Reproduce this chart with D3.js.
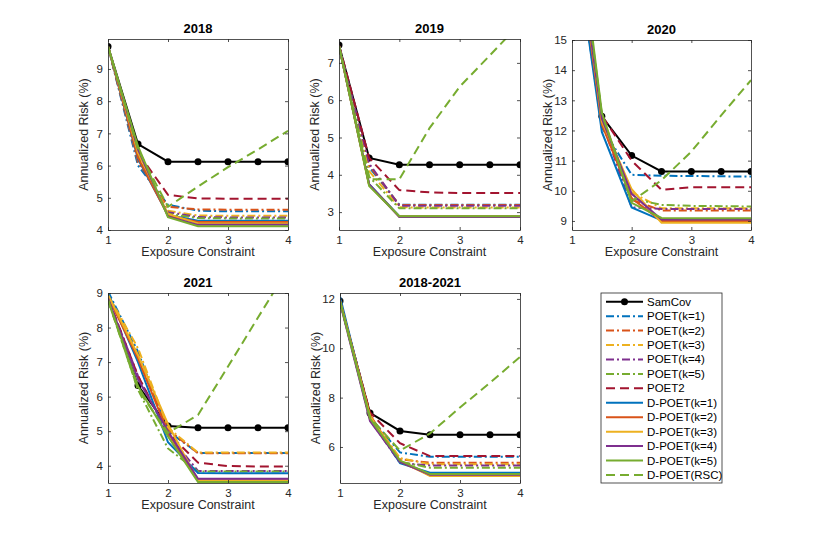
<!DOCTYPE html>
<html>
<head>
<meta charset="utf-8">
<script src="https://cdn.jsdelivr.net/npm/d3@7"></script>
<style>
  body { margin: 0; background: #fff; }
  text { font-family: "Liberation Sans", Arial, sans-serif; }
</style>
</head>
<body>
<div id="chart"></div>
<script>
// exposure constraint values on the x axis
const exposure = [1, 1.5, 2, 2.5, 3, 3.5, 4];
const xTicks = [1, 2, 3, 4];

const seriesNames = ["SamCov", "POET(k=1)", "POET(k=2)", "POET(k=3)", "POET(k=4)", "POET(k=5)", "POET2",
  "D-POET(k=1)", "D-POET(k=2)", "D-POET(k=3)", "D-POET(k=4)", "D-POET(k=5)", "D-POET(RSC)"];

// one row per series, same order as seriesNames
const risk2018 = [
  [9.7, 6.67, 6.12, 6.12, 6.12, 6.12, 6.12],
  [9.7, 6.0, 4.78, 4.6, 4.58, 4.58, 4.58],
  [9.7, 6.1, 4.72, 4.64, 4.63, 4.63, 4.63],
  [9.7, 6.2, 4.6, 4.45, 4.44, 4.44, 4.44],
  [9.7, 6.2, 4.55, 4.4, 4.39, 4.39, 4.39],
  [9.7, 6.3, 4.5, 4.37, 4.36, 4.36, 4.36],
  [9.7, 6.4, 5.09, 4.98, 4.97, 4.97, 4.97],
  [9.7, 6.2, 4.47, 4.29, 4.29, 4.29, 4.29],
  [9.7, 6.25, 4.45, 4.25, 4.25, 4.25, 4.25],
  [9.7, 6.4, 4.5, 4.2, 4.2, 4.2, 4.2],
  [9.7, 6.5, 4.42, 4.16, 4.16, 4.16, 4.16],
  [9.7, 6.6, 4.4, 4.12, 4.12, 4.12, 4.12],
  [9.7, 6.5, 4.72, 5.35, 5.95, 6.5, 7.08]
];
const risk2019 = [
  [7.48, 4.45, 4.27, 4.27, 4.27, 4.27, 4.27],
  [7.45, 4.2, 3.2, 3.2, 3.2, 3.2, 3.2],
  [7.45, 4.25, 3.19, 3.19, 3.19, 3.19, 3.19],
  [7.45, 4.1, 3.13, 3.12, 3.12, 3.12, 3.12],
  [7.45, 4.3, 3.17, 3.17, 3.17, 3.17, 3.17],
  [7.45, 3.95, 3.1, 3.1, 3.1, 3.1, 3.1],
  [7.48, 4.45, 3.59, 3.53, 3.51, 3.51, 3.51],
  [7.45, 3.75, 2.89, 2.89, 2.89, 2.89, 2.89],
  [7.45, 3.73, 2.88, 2.88, 2.88, 2.88, 2.88],
  [7.45, 3.72, 2.88, 2.88, 2.88, 2.88, 2.88],
  [7.45, 3.74, 2.87, 2.87, 2.87, 2.87, 2.87],
  [7.45, 3.7, 2.89, 2.89, 2.89, 2.89, 2.89],
  [7.45, 3.88, 3.88, 5.25, 6.36, 7.2, 8.05]
];
const risk2020 = [
  [20.0, 12.47, 11.17, 10.64, 10.64, 10.64, 10.64],
  [19.0, 12.1, 10.53, 10.5, 10.49, 10.48, 10.47],
  [19.5, 12.3, 9.7, 9.35, 9.35, 9.35, 9.35],
  [19.8, 12.4, 9.95, 9.42, 9.42, 9.42, 9.42],
  [19.6, 12.3, 9.45, 9.4, 9.4, 9.4, 9.4],
  [20.0, 12.5, 9.75, 9.53, 9.5, 9.49, 9.48],
  [19.8, 12.5, 11.0, 10.03, 10.12, 10.12, 10.12],
  [19.0, 11.95, 9.45, 9.02, 9.02, 9.02, 9.02],
  [19.5, 12.2, 9.75, 9.0, 9.0, 9.0, 9.0],
  [19.8, 12.3, 10.05, 8.94, 8.94, 8.94, 8.94],
  [19.7, 12.4, 9.9, 9.05, 9.05, 9.05, 9.05],
  [20.5, 12.6, 9.6, 9.1, 9.09, 9.09, 9.09],
  [20.2, 12.55, 9.65, 10.35, 11.3, 12.5, 13.67]
];
const risk2021 = [
  [8.82, 6.32, 5.15, 5.1, 5.1, 5.1, 5.1],
  [9.05, 7.3, 5.0, 4.37, 4.37, 4.37, 4.37],
  [8.9, 7.2, 5.05, 4.36, 4.36, 4.36, 4.36],
  [8.95, 7.4, 5.1, 4.38, 4.38, 4.38, 4.38],
  [8.85, 6.6, 4.9, 3.85, 3.85, 3.85, 3.85],
  [8.8, 6.2, 4.5, 3.83, 3.83, 3.83, 3.83],
  [8.85, 6.6, 4.95, 4.09, 3.99, 3.98, 3.98],
  [9.0, 7.0, 4.68, 3.79, 3.78, 3.78, 3.78],
  [8.9, 7.1, 4.95, 3.58, 3.58, 3.58, 3.58],
  [8.95, 7.2, 5.2, 3.56, 3.56, 3.56, 3.56],
  [8.85, 6.5, 5.0, 3.62, 3.62, 3.62, 3.62],
  [8.8, 6.3, 4.85, 3.53, 3.53, 3.53, 3.53],
  [8.8, 6.2, 4.95, 5.47, 6.87, 8.29, 9.7]
];
const riskAll = [
  [11.92, 7.38, 6.65, 6.5, 6.5, 6.5, 6.5],
  [11.9, 7.2, 5.78, 5.6, 5.6, 5.6, 5.6],
  [11.9, 7.25, 5.5, 5.36, 5.36, 5.36, 5.36],
  [11.9, 7.25, 5.55, 5.3, 5.3, 5.3, 5.3],
  [11.9, 7.1, 5.35, 5.25, 5.25, 5.25, 5.25],
  [11.9, 7.15, 5.4, 5.16, 5.16, 5.16, 5.16],
  [11.9, 7.4, 6.15, 5.63, 5.63, 5.63, 5.63],
  [12.1, 7.2, 5.34, 4.96, 4.96, 4.96, 4.96],
  [11.95, 7.3, 5.4, 4.85, 4.85, 4.85, 4.85],
  [11.9, 7.25, 5.45, 4.82, 4.82, 4.82, 4.82],
  [11.85, 7.05, 5.4, 4.87, 4.87, 4.87, 4.87],
  [11.9, 7.15, 5.45, 4.9, 4.9, 4.9, 4.9],
  [11.9, 7.2, 5.85, 6.55, 7.6, 8.6, 9.65]
];

const yTicks2018 = [4, 5, 6, 7, 8, 9];
const yTicks2019 = [3, 4, 5, 6, 7];
const yTicks2020 = [9, 10, 11, 12, 13, 14, 15];
const yTicks2021 = [4, 5, 6, 7, 8, 9];
const yTicksAll = [6, 8, 10, 12];

// matlab default colour order
const colors = ["#000000", "#0072BD", "#D95319", "#EDB120", "#7E2F8E", "#77AC30", "#A2142F",
  "#0072BD", "#D95319", "#EDB120", "#7E2F8E", "#77AC30", "#77AC30"];
const dashes = [null, "8,3,2,3", "8,3,2,3", "8,3,2,3", "8,3,2,3", "8,3,2,3", "9,5",
  null, null, null, null, null, "9,5"];

const svg = d3.select("#chart").append("svg")
  .attr("width", 830).attr("height", 543);
svg.append("rect").attr("width", 830).attr("height", 543).attr("fill", "#fff");

const panels = [
  { title: "2018", data: risk2018, ticks: yTicks2018, ylim: [4, 9.93], box: [108, 288, 39, 230] },
  { title: "2019", data: risk2019, ticks: yTicks2019, ylim: [2.52, 7.64], box: [339, 520, 39, 230] },
  { title: "2020", data: risk2020, ticks: yTicks2020, ylim: [8.7, 15], box: [572, 751, 40, 230] },
  { title: "2021", data: risk2021, ticks: yTicks2021, ylim: [3.5, 9], box: [108, 288, 293, 483] },
  { title: "2018-2021", data: riskAll, ticks: yTicksAll, ylim: [4.54, 12.24], box: [340, 520, 293, 483] }
];

panels.forEach((p, pi) => {
  const [l, r, t, b] = p.box;
  const x = d3.scaleLinear().domain([1, 4]).range([l, r]);
  const y = d3.scaleLinear().domain(p.ylim).range([b, t]);
  const g = svg.append("g");

  g.append("clipPath").attr("id", "clip" + pi)
    .append("rect").attr("x", l).attr("y", t).attr("width", r - l).attr("height", b - t);

  const line = d3.line().x((d, i) => x(exposure[i])).y((d) => y(d));
  const lines = g.append("g").attr("clip-path", `url(#clip${pi})`);
  // draw series in plot order, last one on top
  p.data.forEach((vals, si) => {
    lines.append("path")
      .attr("d", line(vals))
      .attr("fill", "none")
      .attr("stroke", colors[si])
      .attr("stroke-width", 2)
      .attr("stroke-dasharray", dashes[si]);
    if (si === 0) {
      lines.selectAll(null).data(vals).join("circle")
        .attr("cx", (d, i) => x(exposure[i]))
        .attr("cy", (d) => y(d))
        .attr("r", 3.5)
        .attr("fill", "#000");
    }
  });

  const axColor = "#262626";
  const styleAxis = (sel) => {
    sel.selectAll("path").attr("stroke", axColor).attr("stroke-width", 0.8);
    sel.selectAll("line").attr("stroke", axColor).attr("stroke-width", 0.8);
    sel.selectAll("text").attr("fill", axColor).attr("font-size", 11.5)
      .style("font-family", '"Liberation Sans", Arial, sans-serif');
  };

  g.append("g").attr("transform", `translate(0,${b})`)
    .call(d3.axisBottom(x).tickValues(xTicks).tickFormat(d3.format("d")).tickSizeInner(-3).tickSizeOuter(0).tickPadding(6))
    .call(styleAxis);
  g.append("g").attr("transform", `translate(${l},0)`)
    .call(d3.axisLeft(y).tickValues(p.ticks).tickFormat(d3.format("d")).tickSizeInner(-3).tickSizeOuter(0).tickPadding(5))
    .call(styleAxis);
  g.append("g").attr("transform", `translate(0,${t})`)
    .call(d3.axisTop(x).tickValues(xTicks).tickFormat("").tickSizeInner(-3).tickSizeOuter(0))
    .call(styleAxis);
  g.append("g").attr("transform", `translate(${r},0)`)
    .call(d3.axisRight(y).tickValues(p.ticks).tickFormat("").tickSizeInner(-3).tickSizeOuter(0))
    .call(styleAxis);

  g.append("text")
    .attr("x", (l + r) / 2).attr("y", t - 6)
    .attr("text-anchor", "middle")
    .attr("font-size", 13).attr("font-weight", "bold").attr("fill", "#000")
    .text(p.title);
  g.append("text")
    .attr("x", (l + r) / 2).attr("y", b + 26)
    .attr("text-anchor", "middle")
    .attr("font-size", 12.5).attr("fill", axColor)
    .text("Exposure Constraint");
  g.append("text")
    .attr("transform", `translate(${l - 20},${(t + b) / 2}) rotate(-90)`)
    .attr("text-anchor", "middle")
    .attr("font-size", 12.5).attr("fill", axColor)
    .text("Annualized Risk (%)");
});

// legend
const leg = svg.append("g");
leg.append("rect")
  .attr("x", 601).attr("y", 293).attr("width", 121).attr("height", 190)
  .attr("fill", "#fff").attr("stroke", "#262626").attr("stroke-width", 0.8);
const rowY = d3.scalePoint().domain(seriesNames).range([301.7, 475]);
seriesNames.forEach((name, si) => {
  const yy = rowY(name);
  leg.append("line")
    .attr("x1", 606).attr("x2", 643).attr("y1", yy).attr("y2", yy)
    .attr("stroke", colors[si]).attr("stroke-width", 2)
    .attr("stroke-dasharray", dashes[si]);
  if (si === 0) {
    leg.append("circle").attr("cx", 624.5).attr("cy", yy).attr("r", 3.5).attr("fill", "#000");
  }
  leg.append("text")
    .attr("x", 647).attr("y", yy).attr("dy", "0.35em")
    .attr("font-size", 11.5).attr("fill", "#000")
    .text(name);
});
</script>
</body>
</html>
